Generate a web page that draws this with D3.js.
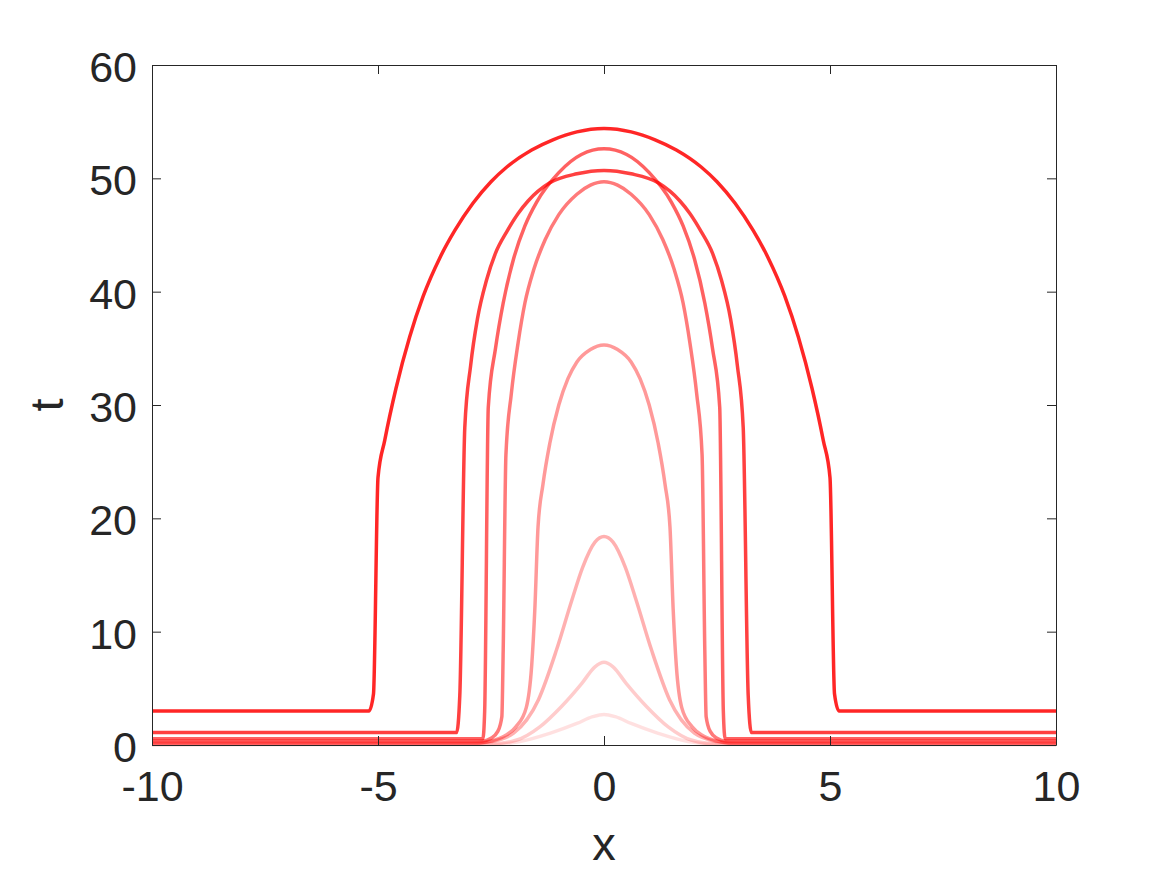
<!DOCTYPE html>
<html>
<head>
<meta charset="utf-8">
<script src="https://cdn.jsdelivr.net/npm/d3@7"></script>
<style>
  html, body { margin: 0; padding: 0; background: #fff; }
  svg { display: block; }
</style>
</head>
<body>
<svg id="chart" width="1167" height="875"></svg>
<script>
// ---- data ----
const xTicks = [-10, -5, 0, 5, 10];
const yTicks = [0, 10, 20, 30, 40, 50, 60];
const xLabel = "x";
const yLabel = "t";

// curves drawn from lightest to darkest
const curveH_x = [-10, -2.5, -1.86, -1.2, -0.6, -0.25, 0, 0.25, 0.6, 1.2, 1.86, 2.5, 10];
const curveH_t = [0.02, 0.05, 0.3, 1.03, 1.9, 2.5, 2.7, 2.5, 1.9, 1.03, 0.3, 0.05, 0.02];

const curveG_x = [-10, -2.5, -1.93, -1.42, -0.94, -0.49, -0.2, 0, 0.2, 0.49, 0.94, 1.42, 1.93, 2.5, 10];
const curveG_t = [0.05, 0.1, 0.44, 1.6, 3.4, 5.44, 6.9, 7.3, 6.9, 5.44, 3.4, 1.6, 0.44, 0.1, 0.05];

const curveF_x = [-10, -3, -2.5, -2.0, -1.45, -1.05, -0.71, -0.47, -0.2, 0, 0.2, 0.47, 0.71, 1.05, 1.45, 2.0, 2.5, 3, 10];
const curveF_t = [0.1, 0.1, 0.3, 1.05, 4.0, 8.4, 12.8, 15.7, 17.9, 18.4, 17.9, 15.7, 12.8, 8.4, 4.0, 1.05, 0.3, 0.1, 0.1];

const curveE_x = [-10, -2.8, -2.5, -2.2, -1.95, -1.72, -1.6, -1.53, -1.46, -1.35, -1.2, -1.0, -0.8, -0.6, -0.3, 0,
                  0.3, 0.6, 0.8, 1.0, 1.2, 1.35, 1.46, 1.53, 1.6, 1.72, 1.95, 2.2, 2.5, 2.8, 10];
const curveE_t = [0.2, 0.2, 0.35, 0.8, 1.6, 3.3, 7.0, 12, 19.2, 23.0, 26.6, 30.0, 32.3, 33.8, 34.9, 35.3,
                  34.9, 33.8, 32.3, 30.0, 26.6, 23.0, 19.2, 12, 7.0, 3.3, 1.6, 0.8, 0.35, 0.2, 0.2];

const curveD_x = [-10, -2.7, -2.5, -2.35, -2.26, -2.23, -2.17, -2.05, -1.9, -1.75, -1.55, -1.3, -1.0, -0.6, -0.3, 0,
                  0.3, 0.6, 1.0, 1.3, 1.55, 1.75, 1.9, 2.05, 2.17, 2.23, 2.26, 2.35, 2.5, 2.7, 10];
const curveD_t = [0.35, 0.35, 0.6, 1.2, 2.5, 8.4, 25.6, 31, 35.5, 39.0, 42.0, 44.6, 46.8, 48.6, 49.4, 49.7,
                  49.4, 48.6, 46.8, 44.6, 42.0, 39.0, 35.5, 31, 25.6, 8.4, 2.5, 1.2, 0.6, 0.35, 0.35];

const curveC_x = [-10, -2.68, -2.64, -2.56, -2.4, -2.23, -2.0, -1.75, -1.49, -1.0, -0.5, 0,
                  0.5, 1.0, 1.49, 1.75, 2.0, 2.23, 2.4, 2.56, 2.64, 2.68, 10];
const curveC_t = [0.55, 0.55, 3, 29.8, 35.0, 39.0, 42.9, 45.8, 47.9, 50.5, 52.1, 52.6,
                  52.1, 50.5, 47.9, 45.8, 42.9, 39.0, 35.0, 29.8, 3, 0.55, 0.55];

const curveB_x = [-10, -3.26, -3.19, -3.08, -2.95, -2.8, -2.6, -2.4, -2.15, -1.9, -1.68, -1.2, -0.6, 0,
                  0.6, 1.2, 1.68, 1.9, 2.15, 2.4, 2.6, 2.8, 2.95, 3.08, 3.19, 3.26, 10];
const curveB_t = [1.1, 1.1, 4.4, 28, 33.5, 37.6, 41.0, 43.4, 45.3, 46.9, 48.0, 49.6, 50.4, 50.7,
                  50.4, 49.6, 48.0, 46.9, 45.3, 43.4, 41.0, 37.6, 33.5, 28, 4.4, 1.1, 1.1];

const curveA_x = [-10, -5.2, -5.1, -5.0, -4.85, -4.6, -4.3, -4.0, -3.63, -3.3, -2.9, -2.5, -2.15, -1.6, -1.13, -0.6, 0,
                  0.6, 1.13, 1.6, 2.15, 2.5, 2.9, 3.3, 3.63, 4.0, 4.3, 4.6, 4.85, 5.0, 5.1, 5.2, 10];
const curveA_t = [3, 3, 4.5, 23.6, 26.9, 31.5, 36.0, 39.6, 43.0, 45.4, 47.8, 49.7, 51.0, 52.5, 53.4, 54.1, 54.4,
                  54.1, 53.4, 52.5, 51.0, 49.7, 47.8, 45.4, 43.0, 39.6, 36.0, 31.5, 26.9, 23.6, 4.5, 3, 3];

const curveXs = [curveH_x, curveG_x, curveF_x, curveE_x, curveD_x, curveC_x, curveB_x, curveA_x];
const curveTs = [curveH_t, curveG_t, curveF_t, curveE_t, curveD_t, curveC_t, curveB_t, curveA_t];
const curveOpacity = [0.12, 0.2, 0.31, 0.4, 0.52, 0.62, 0.75, 0.85];

// ---- layout ----
const margin = { left: 152, top: 65, right: 1056, bottom: 745 };
const svg = d3.select("#chart");
const x = d3.scaleLinear().domain([-10, 10]).range([margin.left, margin.right]);
const y = d3.scaleLinear().domain([0, 60]).range([margin.bottom, margin.top]);

const axisColor = "#262626";
const fontFam = "'Liberation Sans', Arial, Helvetica, sans-serif";
const tickLen = 9;

// curves
const line = d3.line().x(d => x(d[0])).y(d => y(d[1])).curve(d3.curveMonotoneX);
const gCurves = svg.append("g");
curveXs.forEach((xs, i) => {
  const pts = xs.map((v, j) => [v, curveTs[i][j]]);
  gCurves.append("path")
    .attr("d", line(pts))
    .attr("fill", "none")
    .attr("stroke", "#ff0000")
    .attr("stroke-opacity", curveOpacity[i])
    .attr("stroke-width", 3.5)
    .attr("stroke-linejoin", "round");
});

// axes (box with inward ticks on all sides)
const axBottom = d3.axisBottom(x).tickValues(xTicks).tickSizeInner(-tickLen).tickSizeOuter(0).tickPadding(25).tickFormat(d3.format("d"));
const axTop = d3.axisTop(x).tickValues(xTicks).tickSizeInner(-tickLen).tickSizeOuter(0).tickFormat("");
const axLeft = d3.axisLeft(y).tickValues(yTicks).tickSizeInner(-tickLen).tickSizeOuter(0).tickPadding(15).tickFormat(d3.format("d"));
const axRight = d3.axisRight(y).tickValues(yTicks).tickSizeInner(-tickLen).tickSizeOuter(0).tickFormat("");

function styleAxis(g) {
  g.select(".domain").attr("stroke", axisColor).attr("stroke-width", 1);
  g.selectAll(".tick line").attr("stroke", axisColor).attr("stroke-width", 1);
  g.selectAll("text").attr("fill", axisColor).style("font-family", fontFam).style("font-size", "43px");
}

svg.append("g").attr("transform", `translate(0,${margin.bottom})`).call(axBottom).call(styleAxis)
  .selectAll(".tick text").text(d => d < 0 ? "-" + Math.abs(d) : d).attr("dy", "0.71em");
svg.append("g").attr("transform", `translate(0,${margin.top})`).call(axTop).call(styleAxis);
svg.append("g").attr("transform", `translate(${margin.left},0)`).call(axLeft).call(styleAxis)
  .selectAll(".tick text").attr("dy", "0.38em");
svg.append("g").attr("transform", `translate(${margin.right},0)`).call(axRight).call(styleAxis);

// axis labels
svg.append("text")
  .attr("x", (margin.left + margin.right) / 2)
  .attr("y", 860)
  .attr("text-anchor", "middle")
  .attr("fill", axisColor)
  .style("font-family", fontFam)
  .style("font-size", "47px")
  .text(xLabel);

svg.append("text")
  .attr("transform", `translate(63,${(margin.top + margin.bottom) / 2}) rotate(-90)`)
  .attr("text-anchor", "middle")
  .attr("fill", axisColor)
  .style("font-family", fontFam)
  .style("font-size", "47px")
  .text(yLabel);
</script>
</body>
</html>
